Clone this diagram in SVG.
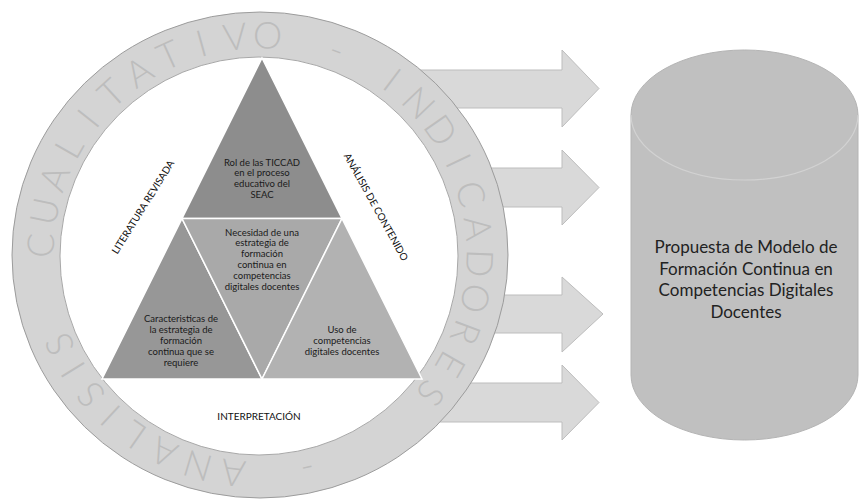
<svg xmlns="http://www.w3.org/2000/svg" width="859" height="500" viewBox="0 0 859 500">
<style>
.arrow{fill:#d9d9d9;stroke:#bdbdbd;stroke-width:1}
.ring{fill:#d4d4d4;stroke:#9c9c9c;stroke-width:1}
.inner{fill:#ffffff;stroke:#a8a8a8;stroke-width:1}
.rl{font-family:Lato,"Open Sans",sans-serif;font-weight:300;font-size:37px;fill:#bdbdbd;text-anchor:middle;dominant-baseline:central}
.tri{stroke:#ffffff;stroke-width:1.5}
.t{font-family:Lato,"Liberation Sans",sans-serif;font-size:9.5px;fill:#1a1a1a;text-anchor:middle}
.side{font-family:Lato,"Liberation Sans",sans-serif;font-size:10px;fill:#111111;text-anchor:middle}
.cyl{fill:#c0c0c0;stroke:#b4b4b4;stroke-width:1}
.ct{font-family:Lato,"Liberation Sans",sans-serif;font-size:17px;fill:#222222;text-anchor:middle}
</style>
<rect width="859" height="500" fill="#ffffff"/>
<g id="connectors">
<path class="arrow" d="M380,70 H562 V50 L599,88.5 L562,127 V108 H380 Z"/>
<path class="arrow" d="M380,168 H562 V150 L599,187.5 L562,225 V207 H380 Z"/>
<path class="arrow" d="M380,295 H562 V277 L603,314 L562,352 V333 H380 Z"/>
<path class="arrow" d="M380,383 H562 V365 L599,402.5 L562,440 V422 H380 Z"/>
</g>
<g id="ring">
<ellipse class="ring" cx="260" cy="255" rx="248" ry="243"/>
<circle class="inner" cx="259" cy="256" r="199"/>
<g class="rl">
<text transform="translate(260,255) rotate(182.5) translate(221,0) rotate(90)">C</text>
<text transform="translate(260,255) rotate(191.5) translate(221,0) rotate(90)">U</text>
<text transform="translate(260,255) rotate(200.5) translate(221,0) rotate(90)">A</text>
<text transform="translate(260,255) rotate(209.5) translate(221,0) rotate(90)">L</text>
<text transform="translate(260,255) rotate(218.5) translate(221,0) rotate(90)">I</text>
<text transform="translate(260,255) rotate(227.5) translate(221,0) rotate(90)">T</text>
<text transform="translate(260,255) rotate(236.5) translate(221,0) rotate(90)">A</text>
<text transform="translate(260,255) rotate(245.5) translate(221,0) rotate(90)">T</text>
<text transform="translate(260,255) rotate(254.5) translate(221,0) rotate(90)">I</text>
<text transform="translate(260,255) rotate(263.5) translate(221,0) rotate(90)">V</text>
<text transform="translate(260,255) rotate(272) translate(221,0) rotate(90)">O</text>
<text transform="translate(260,255) rotate(290.5) translate(221,0) rotate(90)">-</text>
<text transform="translate(260,255) rotate(307) translate(221,0) rotate(90)">I</text>
<text transform="translate(260,255) rotate(316.2) translate(221,0) rotate(90)">N</text>
<text transform="translate(260,255) rotate(325.4) translate(221,0) rotate(90)">D</text>
<text transform="translate(260,255) rotate(334.6) translate(221,0) rotate(90)">I</text>
<text transform="translate(260,255) rotate(343.8) translate(221,0) rotate(90)">C</text>
<text transform="translate(260,255) rotate(353) translate(221,0) rotate(90)">A</text>
<text transform="translate(260,255) rotate(2.2) translate(221,0) rotate(90)">D</text>
<text transform="translate(260,255) rotate(11.4) translate(221,0) rotate(90)">O</text>
<text transform="translate(260,255) rotate(20.6) translate(221,0) rotate(90)">R</text>
<text transform="translate(260,255) rotate(29.8) translate(221,0) rotate(90)">E</text>
<text transform="translate(260,255) rotate(39) translate(221,0) rotate(90)">S</text>
<text transform="translate(260,255) rotate(77.5) translate(221,0) rotate(90)">-</text>
<text transform="translate(260,255) rotate(97) translate(221,0) rotate(90)">A</text>
<text transform="translate(260,255) rotate(106.5) translate(221,0) rotate(90)">N</text>
<text transform="translate(260,255) rotate(116) translate(221,0) rotate(90)">A</text>
<text transform="translate(260,255) rotate(125) translate(221,0) rotate(90)">L</text>
<text transform="translate(260,255) rotate(133) translate(221,0) rotate(90)">I</text>
<text transform="translate(260,255) rotate(140.5) translate(221,0) rotate(90)">S</text>
<text transform="translate(260,255) rotate(148.5) translate(221,0) rotate(90)">I</text>
<text transform="translate(260,255) rotate(156) translate(221,0) rotate(90)">S</text>
</g>
</g>
<g id="triangle-top">
<polygon class="tri" points="262,58 342,218.5 182,218.5" fill="#8d8d8d"/>
<text class="t"><tspan x="262" y="165.5">Rol de las TICCAD</tspan><tspan x="262" y="176.2">en el proceso</tspan><tspan x="262" y="186.9">educativo del</tspan><tspan x="262" y="197.6">SEAC</tspan></text>
</g>
<g id="triangle-left">
<polygon class="tri" points="182,218.5 262,379 102,379" fill="#979797"/>
<text class="t"><tspan x="181" y="321.5">Caracteristicas de</tspan><tspan x="181" y="332.5">la estrategia de</tspan><tspan x="181" y="343.5">formación</tspan><tspan x="181" y="354.5">continua que se</tspan><tspan x="181" y="365.5">requiere</tspan></text>
</g>
<g id="triangle-center">
<polygon class="tri" points="182,218.5 342,218.5 262,379" fill="#a9a9a9"/>
<text class="t"><tspan x="262" y="235.5">Necesidad de una</tspan><tspan x="262" y="246.4">estrategia de</tspan><tspan x="262" y="257.3">formación</tspan><tspan x="262" y="268.2">continua en</tspan><tspan x="262" y="279.1">competencias</tspan><tspan x="262" y="290">digitales docentes</tspan></text>
</g>
<g id="triangle-right">
<polygon class="tri" points="342,218.5 422,379 262,379" fill="#b2b2b2"/>
<text class="t"><tspan x="342" y="332.5">Uso de</tspan><tspan x="342" y="343.5">competencias</tspan><tspan x="342" y="354.5">digitales docentes</tspan></text>
</g>
<g id="label-literatura">
<text class="side" transform="translate(143,207) rotate(-58)" y="3.5">LITERATURA REVISADA</text>
</g>
<g id="label-analisis">
<text class="side" transform="translate(376,207) rotate(61)" y="3.5">ANÁLISIS DE CONTENIDO</text>
</g>
<g id="label-interpretacion">
<text class="side" x="259" y="420" font-size="11">INTERPRETACIÓN</text>
</g>
<g id="cylinder">
<path class="cyl" d="M631,115 A113.5,65 0 0 1 858,115 V375 A113.5,65 0 0 1 631,375 Z"/>
<path d="M631,115 A113.5,65 0 0 0 858,115" fill="none" stroke="#d2d2d2" stroke-width="1.2"/>
<text class="ct"><tspan x="746" y="253">Propuesta de Modelo de</tspan><tspan x="746" y="274.5">Formación Continua en</tspan><tspan x="746" y="296">Competencias Digitales</tspan><tspan x="746" y="317.5">Docentes</tspan></text>
</g>
</svg>
